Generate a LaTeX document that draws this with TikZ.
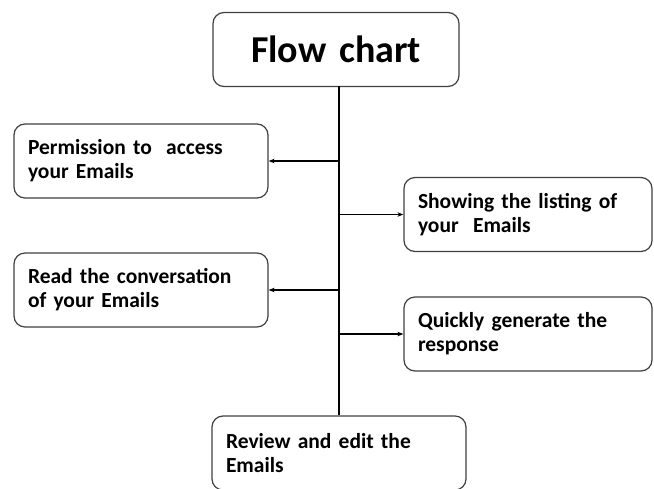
\documentclass[tikz,border=0pt]{standalone}
\usepackage{fontspec}
\setmainfont{Carlito}
\usetikzlibrary{arrows.meta}

\newcommand{\tightspace}{\spaceskip=0.17em plus 0.05em minus 0.03em\relax}
\tikzset{
  box/.style={draw=black!75, line width=1.2pt, rounded corners=11pt, fill=white,
    text width=226pt, inner xsep=14pt, minimum height=74pt, align=left,
    font=\fontsize{21.5}{24}\selectfont\bfseries\tightspace},
  link/.style={line width=1.5pt, -{Stealth[length=6pt,width=4.5pt]}}
}

\begin{document}
\begin{tikzpicture}[x=1pt,y=-1pt]
\useasboundingbox (0,0) rectangle (654,488);
\clip (0,0) rectangle (654,488);
\node[box, text width=218pt, align=center, font=\fontsize{38}{42}\selectfont\bfseries\tightspace] (title) at (336,49.5) {Flow chart};
\node[box] (perm) at (141,161) {Permission to\ \ access\\your Emails};
\node[box, text width=220pt] (list) at (528,214.5) {Showing the listing of\\your\ \ Emails};
\node[box] (read) at (141,290) {Read the conversation\\of your Emails};
\node[box, text width=220pt] (resp) at (528,334) {Quickly generate the\\response};
\node[box] (review) at (339,453) {Review and edit the\\Emails};
\coordinate (top) at (339,86);
\draw[line width=1.5pt] (top) -- (review.north);
\draw[link] (perm.east -| top) -- (perm.east);
\draw[link] (list.west -| top) -- (list.west);
\draw[link] (read.east -| top) -- (read.east);
\draw[link] (resp.west -| top) -- (resp.west);
\end{tikzpicture}
\end{document}
